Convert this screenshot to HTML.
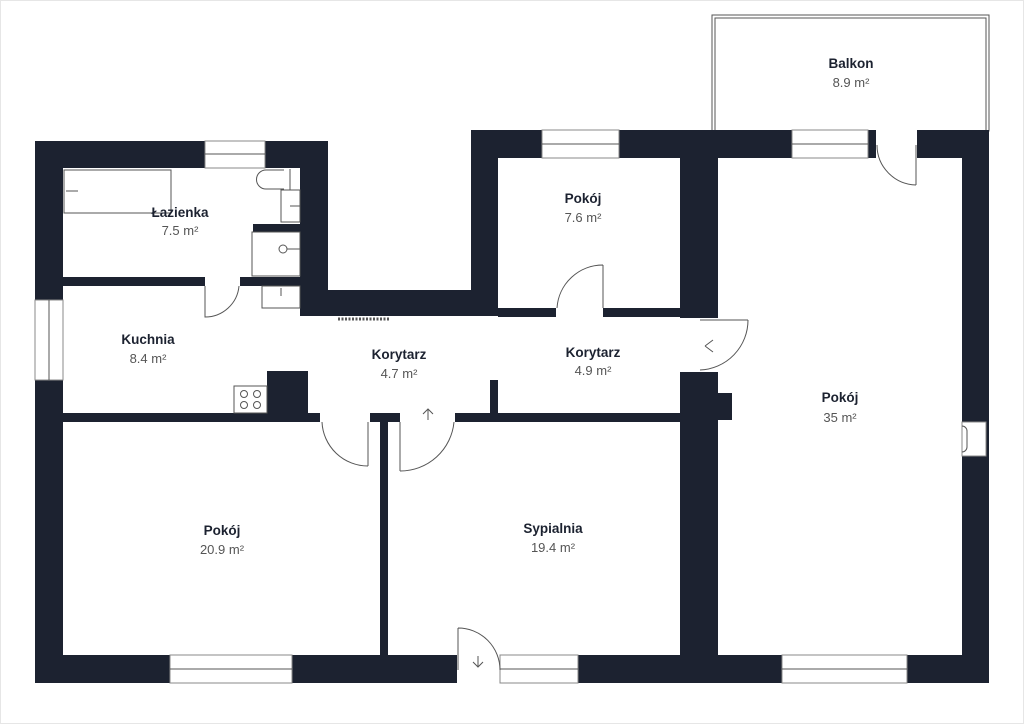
<!DOCTYPE html>
<html><head><meta charset="utf-8"><style>
html,body{margin:0;padding:0;background:#fff;width:1024px;height:724px;overflow:hidden}
svg{display:block}
.w{fill:#1c2230}
.t{font-family:"Liberation Sans",sans-serif;font-size:13.5px;font-weight:bold;fill:#1c2230;text-anchor:middle}
.a{font-family:"Liberation Sans",sans-serif;font-size:13px;fill:#555;text-anchor:middle}
.l{fill:none;stroke:#555;stroke-width:1}
.win{fill:#fff;stroke:#888;stroke-width:1}
</style></head><body>
<svg width="1024" height="724" viewBox="0 0 1024 724">
<rect x="0.5" y="0.5" width="1023" height="723" fill="#fff" stroke="#e6e6e6"/>
<!-- balcony -->
<rect x="712" y="15" width="277" height="116" class="l" stroke="#888"/>
<rect x="715" y="18" width="271" height="113" class="l" stroke="#888"/>
<!-- walls -->
<rect class="w" x="35" y="141" width="293" height="27"/>
<rect class="w" x="35" y="141" width="28" height="542"/>
<rect class="w" x="300" y="141" width="28" height="175"/>
<rect class="w" x="300" y="290" width="198" height="26"/>
<rect class="w" x="471" y="130" width="27" height="186"/>
<rect class="w" x="471" y="130" width="518" height="28"/>
<rect class="w" x="680" y="130" width="38" height="188"/>
<rect class="w" x="680" y="372" width="38" height="311"/>
<rect class="w" x="718" y="393" width="14" height="27"/>
<rect class="w" x="962" y="130" width="27" height="553"/>
<rect class="w" x="35" y="655" width="954" height="28"/>
<rect class="w" x="498" y="308" width="58" height="9"/>
<rect class="w" x="603" y="308" width="77" height="9"/>
<rect class="w" x="63" y="277" width="142" height="9"/>
<rect class="w" x="240" y="277" width="60" height="9"/>
<rect class="w" x="253" y="224" width="47" height="8"/>
<rect class="w" x="63" y="413" width="257" height="9"/>
<rect class="w" x="370" y="413" width="30" height="9"/>
<rect class="w" x="455" y="413" width="225" height="9"/>
<rect class="w" x="380" y="413" width="8" height="242"/>
<rect class="w" x="490" y="380" width="8" height="33"/>
<rect class="w" x="267" y="371" width="41" height="42"/>
<!-- windows -->
<rect class="win" x="205" y="141" width="60" height="27"/><line class="l" x1="205" y1="154" x2="265" y2="154"/>
<rect class="win" x="542" y="130" width="77" height="28"/><line class="l" x1="542" y1="144" x2="619" y2="144"/>
<rect class="win" x="792" y="130" width="76" height="28"/><line class="l" x1="792" y1="144" x2="868" y2="144"/>
<rect fill="#fff" x="876" y="130" width="41" height="28"/>
<rect class="win" x="35" y="300" width="28" height="80"/><line class="l" x1="49" y1="300" x2="49" y2="380"/>
<rect class="win" x="170" y="655" width="122" height="28"/><line class="l" x1="170" y1="669" x2="292" y2="669"/>
<rect fill="#fff" x="457" y="655" width="43" height="28"/>
<rect class="win" x="500" y="655" width="78" height="28"/><line class="l" x1="500" y1="669" x2="578" y2="669"/>
<rect class="win" x="782" y="655" width="125" height="28"/><line class="l" x1="782" y1="669" x2="907" y2="669"/>
<rect fill="#fff" x="680" y="318" width="38" height="54"/>
<rect class="win" x="962" y="422" width="24" height="34"/>
<path class="l" d="M962 426 a5 5 0 0 1 5 5 v16 a5 5 0 0 1 -5 5"/>
<!-- doors -->
<path class="l" d="M205 286 V317 A34 34 0 0 0 239 286"/>
<path class="l" d="M603 265 V308 M603 265 A46 46 0 0 0 557 308"/>
<path class="l" d="M916 145 V185 M916 185 A40 40 0 0 1 877 145"/>
<path class="l" d="M748 320 H700 M748 320 A50 50 0 0 1 700 370"/>
<path class="l" d="M705 346 l8 -6 M705 346 l8 6"/>
<path class="l" d="M368 422 V466 M368 466 A46 46 0 0 1 322 422"/>
<path class="l" d="M400 422 V471 M400 471 A54 54 0 0 0 454 422"/>
<path class="l" d="M428 420 V409 M423 414 l5 -5 5 5"/>
<path class="l" d="M458 628 V670 M458 628 A42 42 0 0 1 500 670"/>
<path class="l" d="M478 656 V667 M473 662 l5 5 5 -5"/>
<!-- fixtures -->
<rect class="l" x="64" y="170" width="107" height="43"/><line class="l" x1="66" y1="191" x2="78" y2="191"/>
<path class="l" d="M284 170 h-18 a9 9 0 0 0 0 19 h18"/><line class="l" x1="290" y1="169" x2="290" y2="190"/>
<rect class="l" x="281" y="190" width="19" height="32"/><line class="l" x1="290" y1="206" x2="300" y2="206"/>
<rect class="l" x="252" y="232" width="48" height="44"/><circle class="l" cx="283" cy="249" r="4"/><line class="l" x1="287" y1="249" x2="300" y2="249"/>
<rect class="l" x="262" y="286" width="38" height="22"/><line class="l" x1="281" y1="288" x2="281" y2="296"/>
<rect class="l" x="234" y="386" width="33" height="27"/>
<circle class="l" cx="244" cy="394" r="3.5"/><circle class="l" cx="257" cy="394" r="3.5"/><circle class="l" cx="244" cy="405" r="3.5"/><circle class="l" cx="257" cy="405" r="3.5"/>
<line x1="338" y1="319" x2="390" y2="319" stroke="#555" stroke-width="3" stroke-dasharray="2 1.5"/>
<!-- labels -->
<text class="t" x="180" y="217">Łazienka</text><text class="a" x="180" y="235">7.5 m²</text>
<text class="t" x="148" y="344">Kuchnia</text><text class="a" x="148" y="363">8.4 m²</text>
<text class="t" x="399" y="359">Korytarz</text><text class="a" x="399" y="378">4.7 m²</text>
<text class="t" x="593" y="357">Korytarz</text><text class="a" x="593" y="375">4.9 m²</text>
<text class="t" x="583" y="203">Pokój</text><text class="a" x="583" y="222">7.6 m²</text>
<text class="t" x="851" y="68">Balkon</text><text class="a" x="851" y="87">8.9 m²</text>
<text class="t" x="840" y="402">Pokój</text><text class="a" x="840" y="422">35 m²</text>
<text class="t" x="222" y="535">Pokój</text><text class="a" x="222" y="554">20.9 m²</text>
<text class="t" x="553" y="533">Sypialnia</text><text class="a" x="553" y="552">19.4 m²</text>
</svg>
</body></html>
